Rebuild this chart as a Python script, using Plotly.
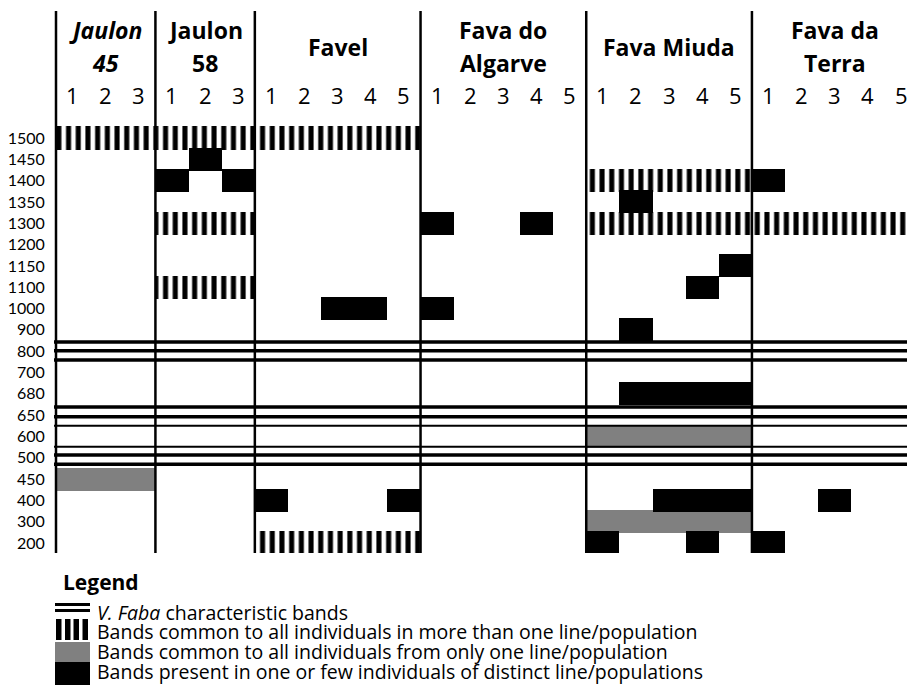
import plotly.graph_objects as go

# ---------------- data ----------------
group_names = ["Jaulon 45", "Jaulon 58", "Favel", "Fava do Algarve", "Fava Miuda", "Fava da Terra"]
group_header_lines = [["Jaulon", "45"], ["Jaulon", "58"], ["Favel"], ["Fava do", "Algarve"], ["Fava Miuda"], ["Fava da", "Terra"]]
group_italic = [True, False, False, False, False, False]
lanes_per_group = [3, 3, 5, 5, 5, 5]

row_labels = ["1500", "1450", "1400", "1350", "1300", "1200", "1150", "1100", "1000", "900",
              "800", "700", "680", "650", "600", "500", "450", "400", "300", "200"]

# (band size, group, first lane, last lane)
striped_bands = [
    ("1500", "Jaulon 45", 1, 3), ("1500", "Jaulon 58", 1, 3), ("1500", "Favel", 1, 5),
    ("1400", "Fava Miuda", 1, 5),
    ("1300", "Jaulon 58", 1, 3), ("1300", "Fava Miuda", 1, 5), ("1300", "Fava da Terra", 1, 5),
    ("1100", "Jaulon 58", 1, 3),
    ("200", "Favel", 1, 5),
]
gray_bands = [
    ("450", "Jaulon 45", 1, 3), ("600", "Fava Miuda", 1, 5), ("300", "Fava Miuda", 1, 5),
]
black_bands = [
    ("1450", "Jaulon 58", 2, 2), ("1400", "Jaulon 58", 1, 1), ("1400", "Jaulon 58", 3, 3),
    ("1000", "Favel", 3, 4), ("400", "Favel", 1, 1), ("400", "Favel", 5, 5),
    ("1300", "Fava do Algarve", 1, 1), ("1300", "Fava do Algarve", 4, 4), ("1000", "Fava do Algarve", 1, 1),
    ("1350", "Fava Miuda", 2, 2), ("1150", "Fava Miuda", 5, 5), ("1100", "Fava Miuda", 4, 4),
    ("900", "Fava Miuda", 2, 2), ("680", "Fava Miuda", 2, 5), ("400", "Fava Miuda", 3, 5),
    ("200", "Fava Miuda", 1, 1), ("200", "Fava Miuda", 4, 4),
    ("1400", "Fava da Terra", 1, 1), ("400", "Fava da Terra", 3, 3), ("200", "Fava da Terra", 1, 1),
]
characteristic_bands = ["800", "650", "500"]

legend_title = "Legend"
legend_labels = [
    "<i>V. Faba</i> characteristic bands",
    "Bands common to all individuals in more than one line/population",
    "Bands common to all individuals from only one line/population",
    "Bands present in one or few individuals of distinct line/populations",
]

# ---------------- style ----------------
FONT = "Open Sans"
GRAY = "#808080"
W, H = 907, 686
ML, MT, MR, MB = 54, 11, 0, 133
PLOT_W = W - ML - MR
PLOT_H = H - MT - MB
LANE_PX = 33.14
ROW_PX = 21.316
ROW0_PX = 138  # pixel of first row centre
x_range = [-2 / LANE_PX, (PLOT_W - 2) / LANE_PX]
y_top = -(ROW0_PX - MT) / ROW_PX
y_bot = (H - MB - ROW0_PX) / ROW_PX
BAR_H = 1.08
# offsets (in row units) and widths of the triple lines for characteristic bands
char_line_style = {
    "800": [(-0.43, 3.5), (-0.02, 3.5), (0.42, 3.5)],
    "650": [(-0.38, 3.5), (0.08, 3.5), (0.50, 2.0)],
    "500": [(-0.52, 2.0), (-0.13, 3.5), (0.31, 3.5)],
}

group_start = {}
acc = 0
for g, n in zip(group_names, lanes_per_group):
    group_start[g] = acc
    acc += n
total_lanes = acc
row_index = {r: i for i, r in enumerate(row_labels)}


def bar_arrays(bands):
    ys, bases, lens = [], [], []
    for r, g, a, b in bands:
        ys.append(row_index[r])
        bases.append(group_start[g] + a - 1)
        lens.append(b - a + 1)
    return ys, bases, lens


fig = go.Figure()

ys, bases, lens = bar_arrays(striped_bands)
fig.add_trace(go.Bar(orientation="h", y=ys, x=lens, base=bases, width=BAR_H,
                     marker=dict(color="white", line=dict(width=0),
                                 pattern=dict(shape="|", fgcolor="black", bgcolor="white",
                                              size=9.7, solidity=0.52, fillmode="replace")),
                     showlegend=False, hoverinfo="skip"))
ys, bases, lens = bar_arrays(gray_bands)
fig.add_trace(go.Bar(orientation="h", y=ys, x=lens, base=bases, width=BAR_H,
                     marker=dict(color=GRAY, line=dict(width=0)), showlegend=False, hoverinfo="skip"))
ys, bases, lens = bar_arrays(black_bands)
fig.add_trace(go.Bar(orientation="h", y=ys, x=lens, base=bases, width=BAR_H,
                     marker=dict(color="black", line=dict(width=0)), showlegend=False, hoverinfo="skip"))

for r in characteristic_bands:
    for off, lw in char_line_style[r]:
        yy = row_index[r] + off
        fig.add_trace(go.Scatter(x=[x_range[0], x_range[1]], y=[yy, yy], mode="lines",
                                 line=dict(color="black", width=lw), showlegend=False,
                                 hoverinfo="skip"))

shapes = []
# group separators
for g in group_names:
    xs = group_start[g]
    shapes.append(dict(type="line", xref="x", yref="y", x0=xs, x1=xs, y0=y_top, y1=y_bot,
                       line=dict(color="black", width=2.5)))

annotations = []
# header
for g, lines, it, n in zip(group_names, group_header_lines, group_italic, lanes_per_group):
    cx = group_start[g] + n / 2
    if len(lines) == 2:
        ypos = [(30 - ROW0_PX) / ROW_PX, (63 - ROW0_PX) / ROW_PX]
    else:
        ypos = [(47 - ROW0_PX) / ROW_PX]
    for txt, yy in zip(lines, ypos):
        t = f"<b>{txt}</b>"
        if it:
            t = f"<i>{t}</i>"
        annotations.append(dict(x=cx, y=yy, xref="x", yref="y", text=t, showarrow=False,
                                font=dict(family=FONT, size=23, color="black"),
                                xanchor="center", yanchor="middle"))
    for k in range(n):
        annotations.append(dict(x=group_start[g] + k + 0.5, y=(95 - ROW0_PX) / ROW_PX,
                                xref="x", yref="y", text=str(k + 1), showarrow=False,
                                font=dict(family=FONT, size=22, color="black"),
                                xanchor="center", yanchor="middle"))


def px_x(px):
    return (px - ML) / PLOT_W


def px_y(py):
    return (H - MB - py) / PLOT_H


# legend
annotations.append(dict(x=px_x(61), y=px_y(582), xref="paper", yref="paper", text="<b>" + legend_title + "</b>",
                        showarrow=False, xanchor="left", yanchor="middle",
                        font=dict(family=FONT, size=21, color="black")))
legend_text_y = [612, 631, 651, 671]
for lab, ty in zip(legend_labels, legend_text_y):
    annotations.append(dict(x=px_x(95), y=px_y(ty), xref="paper", yref="paper", text=lab,
                            showarrow=False, xanchor="left", yanchor="middle",
                            font=dict(family=FONT, size=19.5, color="black")))
# legend icons
for y0 in (603, 609):
    shapes.append(dict(type="rect", xref="paper", yref="paper", x0=px_x(55), x1=px_x(90),
                       y0=px_y(y0), y1=px_y(y0 + 3), fillcolor="black", line=dict(width=0)))
for bx in (56, 65, 73.5, 82.5):
    shapes.append(dict(type="rect", xref="paper", yref="paper", x0=px_x(bx), x1=px_x(bx + 5.5),
                       y0=px_y(619), y1=px_y(640), fillcolor="black", line=dict(width=0)))
shapes.append(dict(type="rect", xref="paper", yref="paper", x0=px_x(55), x1=px_x(90),
                   y0=px_y(642), y1=px_y(662), fillcolor=GRAY, line=dict(width=0)))
shapes.append(dict(type="rect", xref="paper", yref="paper", x0=px_x(55), x1=px_x(90),
                   y0=px_y(662), y1=px_y(685), fillcolor="black", line=dict(width=0)))

fig.update_layout(
    width=W, height=H,
    margin=dict(l=ML, r=MR, t=MT, b=MB, pad=0, autoexpand=False),
    paper_bgcolor="white", plot_bgcolor="white",
    barmode="overlay", bargap=0,
    showlegend=False,
    shapes=shapes, annotations=annotations,
    font=dict(family=FONT, color="black"),
)
fig.update_xaxes(range=x_range, showgrid=False, zeroline=False, showticklabels=False,
                 showline=False, fixedrange=True, automargin=False)
fig.update_yaxes(range=[y_bot, y_top], showgrid=False, zeroline=False, showline=False,
                 tickvals=list(range(len(row_labels))), ticktext=row_labels,
                 ticks="outside", ticklen=5, tickcolor="rgba(0,0,0,0)", automargin=False,
                 tickfont=dict(family="Lato", size=16, color="black"), fixedrange=True)

fig.write_html("out.html", config={"displayModeBar": False},
               post_script="document.body.style.margin='0';document.body.style.overflow='hidden';")
